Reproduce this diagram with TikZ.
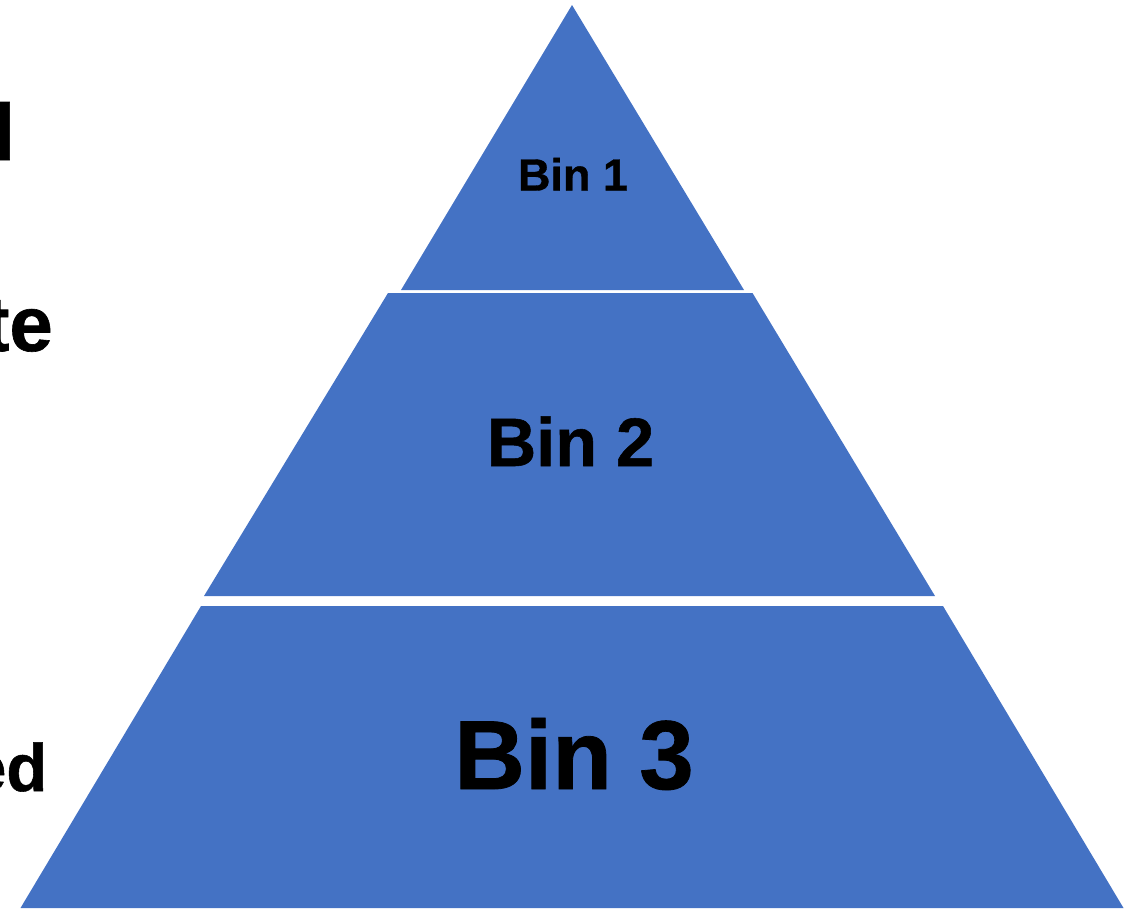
\documentclass[tikz,border=0pt]{standalone}
\usepackage{fontspec}
\setmainfont{Liberation Sans}[BoldFeatures={FakeBold=0.8}]
\definecolor{tierblue}{HTML}{4472C4}
\tikzset{
  tier/.style={fill=tierblue, draw=none},
  binlabel/.style={text=black, inner sep=0pt, anchor=base},
  sidelabel/.style={text=black, inner sep=0pt, anchor=base east}
}
\begin{document}
\begin{tikzpicture}[x=1pt, y=-1pt]
  \useasboundingbox (0,0) rectangle (1132,908);
  \clip (0,0) rectangle (1132,908);

  % pyramid tiers, top to bottom
  \fill[tier] (572,5) -- (401,290) -- (744,290) -- cycle;
  \fill[tier] (388,293) -- (752.5,293) -- (935,596) -- (204,596) -- cycle;
  \fill[tier] (201,606) -- (943,606) -- (1123.5,908) -- (20.5,908) -- cycle;

  % tier labels
  \node[binlabel, font=\fontsize{45}{46}\selectfont\bfseries] (bin1) at (573,190.5) {Bin 1};
  \node[binlabel, font=\fontsize{68.5}{70}\selectfont\bfseries] (bin2) at (570.5,466) {Bin 2};
  \node[binlabel, font=\fontsize{98}{100}\selectfont\bfseries] (bin3) at (574,789) {Bin 3};

  % side captions running off the left edge
  \node[sidelabel, font=\fontsize{80}{80}\selectfont\bfseries] (capA) at (15.5,160) {l};
  \node[sidelabel, font=\fontsize{78}{78}\selectfont\bfseries] (capB) at (53,351) {te};
  \node[sidelabel, font=\fontsize{67}{67}\selectfont\bfseries] (capC) at (47.5,791) {ed};
\end{tikzpicture}
\end{document}
